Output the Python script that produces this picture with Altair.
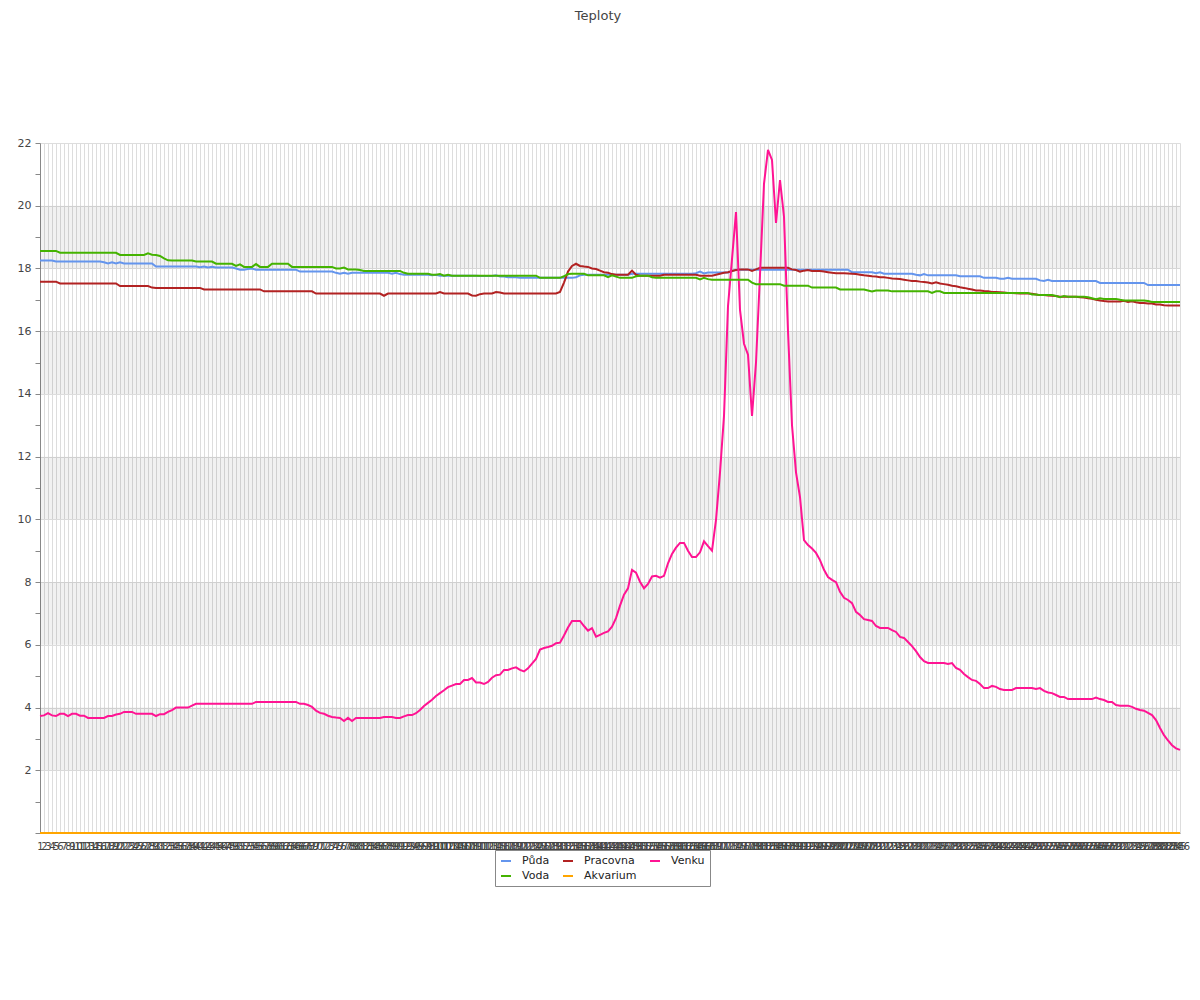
import altair as alt
import pandas as pd

# x categories: measurement numbers 1..286
labels = list(range(1, 287))

series_names = ["Půda", "Pracovna", "Venku", "Voda", "Akvarium"]
series_colors = ["#6495ED", "#B22222", "#FF1493", "#44B300", "#FFA500"]

puda = [
    18.25, 18.25, 18.25, 18.25, 18.22, 18.22, 18.22, 18.22, 18.22, 18.22,
    18.22, 18.22, 18.22, 18.22, 18.22, 18.22, 18.2, 18.16, 18.2, 18.16,
    18.2, 18.16, 18.16, 18.16, 18.16, 18.16, 18.16, 18.16, 18.16, 18.06,
    18.06, 18.06, 18.06, 18.06, 18.06, 18.06, 18.06, 18.06, 18.06, 18.06,
    18.04, 18.06, 18.03, 18.05, 18.03, 18.03, 18.03, 18.03, 18.03, 18.0,
    17.96, 17.96, 17.98, 18.0, 17.96, 17.96, 17.96, 17.96, 17.96, 17.96,
    17.96, 17.96, 17.96, 17.96, 17.96, 17.9, 17.9, 17.9, 17.9, 17.9,
    17.9, 17.9, 17.9, 17.9, 17.86, 17.83, 17.86, 17.83, 17.86, 17.86,
    17.86, 17.86, 17.86, 17.86, 17.86, 17.86, 17.86, 17.86, 17.83, 17.86,
    17.82, 17.8, 17.8, 17.8, 17.8, 17.8, 17.8, 17.8, 17.78, 17.8,
    17.77, 17.77, 17.77, 17.77, 17.77, 17.77, 17.77, 17.77, 17.77, 17.77,
    17.76, 17.76, 17.76, 17.76, 17.78, 17.74, 17.74, 17.72, 17.72, 17.72,
    17.7, 17.7, 17.7, 17.7, 17.7, 17.7, 17.7, 17.7, 17.7, 17.7,
    17.7, 17.7, 17.7, 17.7, 17.72, 17.78, 17.8, 17.8, 17.8, 17.8,
    17.8, 17.8, 17.8, 17.8, 17.8, 17.8, 17.8, 17.8, 17.83, 17.83,
    17.83, 17.83, 17.83, 17.83, 17.83, 17.83, 17.83, 17.83, 17.83, 17.83,
    17.83, 17.83, 17.83, 17.83, 17.85, 17.9, 17.84, 17.87, 17.87, 17.87,
    17.87, 17.87, 17.87, 17.92, 17.96, 17.96, 17.96, 17.96, 17.96, 17.96,
    17.96, 17.96, 17.96, 17.96, 17.96, 17.96, 17.96, 17.96, 17.96, 17.96,
    17.96, 17.96, 17.96, 17.96, 17.96, 17.96, 17.96, 17.96, 17.96, 17.96,
    17.96, 17.96, 17.96, 17.88, 17.88, 17.88, 17.88, 17.88, 17.88, 17.85,
    17.88, 17.83, 17.83, 17.83, 17.83, 17.83, 17.83, 17.83, 17.83, 17.8,
    17.78, 17.82, 17.78, 17.78, 17.78, 17.78, 17.78, 17.78, 17.78, 17.78,
    17.75, 17.75, 17.75, 17.75, 17.75, 17.75, 17.7, 17.7, 17.7, 17.7,
    17.67, 17.67, 17.7, 17.67, 17.67, 17.67, 17.67, 17.67, 17.67, 17.67,
    17.62, 17.6, 17.64, 17.6, 17.6, 17.6, 17.6, 17.6, 17.6, 17.6,
    17.6, 17.6, 17.6, 17.6, 17.6, 17.54, 17.54, 17.54, 17.54, 17.54,
    17.54, 17.54, 17.54, 17.54, 17.54, 17.54, 17.54, 17.47, 17.47, 17.47,
    17.47, 17.47, 17.47, 17.47, 17.47, 17.47,
]

pracovna = [
    17.58, 17.58, 17.58, 17.58, 17.58, 17.52, 17.52, 17.52, 17.52, 17.52,
    17.52, 17.52, 17.52, 17.52, 17.52, 17.52, 17.52, 17.52, 17.52, 17.52,
    17.44, 17.44, 17.44, 17.44, 17.44, 17.44, 17.44, 17.44, 17.39, 17.38,
    17.38, 17.38, 17.38, 17.38, 17.38, 17.38, 17.38, 17.38, 17.38, 17.38,
    17.38, 17.33, 17.33, 17.33, 17.33, 17.33, 17.33, 17.33, 17.33, 17.33,
    17.33, 17.33, 17.33, 17.33, 17.33, 17.33, 17.27, 17.27, 17.27, 17.27,
    17.27, 17.27, 17.27, 17.27, 17.27, 17.27, 17.27, 17.27, 17.27, 17.2,
    17.2, 17.2, 17.2, 17.2, 17.2, 17.2, 17.2, 17.2, 17.2, 17.2,
    17.2, 17.2, 17.2, 17.2, 17.2, 17.2, 17.13, 17.2, 17.2, 17.2,
    17.2, 17.2, 17.2, 17.2, 17.2, 17.2, 17.2, 17.2, 17.2, 17.2,
    17.25, 17.2, 17.2, 17.2, 17.2, 17.2, 17.2, 17.2, 17.14, 17.13,
    17.18, 17.2, 17.2, 17.2, 17.25, 17.23, 17.2, 17.2, 17.2, 17.2,
    17.2, 17.2, 17.2, 17.2, 17.2, 17.2, 17.2, 17.2, 17.2, 17.2,
    17.25, 17.55, 17.9, 18.08, 18.15, 18.08, 18.06, 18.05, 18.0, 17.98,
    17.93, 17.88, 17.86, 17.82, 17.8, 17.8, 17.8, 17.8, 17.93, 17.8,
    17.77, 17.77, 17.77, 17.77, 17.77, 17.77, 17.8, 17.8, 17.8, 17.8,
    17.8, 17.8, 17.8, 17.8, 17.8, 17.77, 17.77, 17.77, 17.77, 17.8,
    17.83, 17.86, 17.88, 17.92, 17.95, 17.97, 17.97, 17.97, 17.92, 17.97,
    18.02, 18.02, 18.02, 18.02, 18.02, 18.02, 18.02, 18.02, 17.97, 17.95,
    17.9, 17.93, 17.95, 17.92, 17.92, 17.92, 17.9, 17.88, 17.86, 17.85,
    17.85, 17.85, 17.84, 17.83, 17.82, 17.8, 17.78, 17.77, 17.75, 17.74,
    17.72, 17.72, 17.7, 17.68, 17.67, 17.66, 17.64, 17.62, 17.6, 17.6,
    17.58, 17.57, 17.55, 17.52, 17.56, 17.52, 17.5, 17.48, 17.45, 17.43,
    17.4, 17.38, 17.35, 17.33, 17.3, 17.3, 17.28, 17.27, 17.25, 17.25,
    17.24, 17.23, 17.22, 17.22, 17.21, 17.2, 17.2, 17.2, 17.19, 17.17,
    17.15, 17.15, 17.14, 17.13, 17.12, 17.1, 17.1, 17.1, 17.1, 17.1,
    17.08, 17.07, 17.05, 17.03, 17.0, 16.98, 16.96, 16.95, 16.95, 16.95,
    16.95, 16.97, 16.93, 16.95, 16.92, 16.9, 16.9, 16.88, 16.88, 16.85,
    16.85, 16.83, 16.82, 16.82, 16.82, 16.82,
]

venku = [
    3.73, 3.75, 3.82, 3.75, 3.73, 3.8, 3.8, 3.73, 3.8, 3.8,
    3.74, 3.74, 3.67, 3.67, 3.67, 3.67, 3.67, 3.73, 3.73, 3.78,
    3.8, 3.86, 3.86, 3.86, 3.8, 3.8, 3.8, 3.8, 3.8, 3.73,
    3.79, 3.79, 3.86, 3.92, 4.0, 4.0, 4.0, 4.0, 4.06, 4.12,
    4.12, 4.12, 4.12, 4.12, 4.12, 4.12, 4.12, 4.12, 4.12, 4.12,
    4.12, 4.12, 4.12, 4.12, 4.18, 4.18, 4.18, 4.18, 4.18, 4.18,
    4.18, 4.18, 4.18, 4.18, 4.18, 4.12, 4.12, 4.08, 4.02, 3.9,
    3.83, 3.8, 3.74, 3.7, 3.68, 3.67, 3.57, 3.67, 3.57, 3.67,
    3.67, 3.67, 3.67, 3.67, 3.67, 3.67, 3.7, 3.7, 3.7, 3.67,
    3.67, 3.72, 3.76, 3.76, 3.82, 3.92, 4.05, 4.15, 4.25, 4.37,
    4.46, 4.55, 4.65, 4.7, 4.75, 4.75, 4.88, 4.88, 4.94, 4.8,
    4.8, 4.75, 4.82, 4.95, 5.03, 5.05, 5.2, 5.2, 5.25, 5.28,
    5.2, 5.15, 5.25, 5.4, 5.55, 5.85, 5.9, 5.93, 5.97, 6.05,
    6.07, 6.3, 6.55, 6.76, 6.76, 6.76, 6.6, 6.45, 6.53, 6.26,
    6.32, 6.38, 6.43, 6.58, 6.85, 7.25, 7.6, 7.8, 8.39, 8.3,
    8.01, 7.8, 7.94, 8.18, 8.2, 8.14, 8.2, 8.6, 8.9, 9.1,
    9.25, 9.25, 9.0, 8.8, 8.8, 8.95, 9.3, 9.15, 9.0, 9.98,
    11.5, 13.3, 16.8, 18.3, 19.8, 16.68, 15.6, 15.25, 13.3, 15.0,
    17.8, 20.7, 21.78, 21.46, 19.45, 20.82, 19.65, 16.0, 13.0, 11.5,
    10.71, 9.34, 9.18, 9.07, 8.93, 8.7, 8.39, 8.16, 8.07, 8.0,
    7.69, 7.5, 7.43, 7.33, 7.05, 6.95, 6.82, 6.79, 6.76, 6.6,
    6.54, 6.54, 6.54, 6.47, 6.41, 6.25, 6.22, 6.09, 5.96, 5.8,
    5.61, 5.48, 5.42, 5.42, 5.42, 5.42, 5.42, 5.39, 5.42, 5.26,
    5.2, 5.07, 4.97, 4.88, 4.85, 4.75, 4.62, 4.62, 4.69, 4.66,
    4.59, 4.56, 4.56, 4.56, 4.62, 4.62, 4.62, 4.62, 4.62, 4.59,
    4.62, 4.53, 4.48, 4.46, 4.4, 4.34, 4.34, 4.27, 4.27, 4.27,
    4.27, 4.27, 4.27, 4.27, 4.32, 4.27, 4.24, 4.18, 4.18, 4.08,
    4.06, 4.06, 4.06, 4.02, 3.96, 3.92, 3.9, 3.83, 3.76, 3.6,
    3.35, 3.12, 2.95, 2.8, 2.7, 2.65,
]

voda = [
    18.56, 18.56, 18.56, 18.56, 18.56, 18.5, 18.5, 18.5, 18.5, 18.5,
    18.5, 18.5, 18.5, 18.5, 18.5, 18.5, 18.5, 18.5, 18.5, 18.5,
    18.43, 18.43, 18.43, 18.43, 18.43, 18.43, 18.43, 18.48, 18.44, 18.43,
    18.4, 18.32, 18.26, 18.25, 18.25, 18.25, 18.25, 18.25, 18.25, 18.22,
    18.22, 18.22, 18.22, 18.22, 18.15, 18.15, 18.15, 18.15, 18.15, 18.08,
    18.13, 18.05, 18.05, 18.05, 18.14, 18.05, 18.05, 18.05, 18.15, 18.15,
    18.15, 18.15, 18.15, 18.05, 18.05, 18.05, 18.05, 18.05, 18.05, 18.05,
    18.05, 18.05, 18.05, 18.05, 18.0, 18.0, 18.03, 17.97, 17.97, 17.97,
    17.95, 17.92, 17.92, 17.92, 17.92, 17.92, 17.92, 17.92, 17.92, 17.92,
    17.92, 17.86, 17.83, 17.83, 17.83, 17.83, 17.83, 17.83, 17.8, 17.8,
    17.82, 17.77, 17.8, 17.77, 17.77, 17.77, 17.77, 17.77, 17.77, 17.77,
    17.77, 17.77, 17.77, 17.77, 17.77, 17.77, 17.77, 17.77, 17.77, 17.77,
    17.77, 17.77, 17.77, 17.77, 17.77, 17.7, 17.7, 17.7, 17.7, 17.7,
    17.7, 17.75, 17.82, 17.83, 17.83, 17.83, 17.83, 17.78, 17.78, 17.78,
    17.78, 17.78, 17.72, 17.78, 17.74, 17.7, 17.7, 17.7, 17.7, 17.75,
    17.77, 17.77, 17.77, 17.72, 17.7, 17.7, 17.7, 17.7, 17.7, 17.7,
    17.7, 17.7, 17.7, 17.7, 17.7, 17.65, 17.7, 17.66, 17.64, 17.64,
    17.64, 17.64, 17.64, 17.64, 17.64, 17.64, 17.64, 17.64, 17.55, 17.5,
    17.5, 17.5, 17.5, 17.5, 17.5, 17.5, 17.45, 17.45, 17.45, 17.45,
    17.45, 17.45, 17.45, 17.39, 17.39, 17.39, 17.39, 17.39, 17.39, 17.39,
    17.33, 17.33, 17.33, 17.33, 17.33, 17.33, 17.33, 17.3, 17.27, 17.3,
    17.3, 17.3, 17.3, 17.27, 17.27, 17.27, 17.27, 17.27, 17.27, 17.27,
    17.27, 17.27, 17.27, 17.22, 17.27, 17.27, 17.22, 17.22, 17.22, 17.22,
    17.22, 17.22, 17.22, 17.22, 17.22, 17.22, 17.22, 17.22, 17.22, 17.22,
    17.22, 17.22, 17.22, 17.22, 17.22, 17.22, 17.22, 17.22, 17.17, 17.17,
    17.15, 17.15, 17.15, 17.15, 17.12, 17.08, 17.12, 17.1, 17.1, 17.1,
    17.1, 17.1, 17.08, 17.05, 17.02, 17.05, 17.03, 17.03, 17.03, 17.03,
    17.0, 16.98, 16.98, 16.98, 16.98, 16.98, 16.98, 16.96, 16.93, 16.93,
    16.93, 16.93, 16.93, 16.93, 16.93, 16.93,
]

akvarium = [0.0] * len(labels)

# shaded horizontal bands of the plot background
band_lo = [2, 6, 10, 14, 18]
band_hi = [4, 8, 12, 16, 20]

for s in (puda, pracovna, venku, voda, akvarium):
    assert len(s) == len(labels), len(s)

values = {"Půda": puda, "Pracovna": pracovna, "Venku": venku,
          "Voda": voda, "Akvarium": akvarium}
rows = []
for name in series_names:
    for n, v in zip(labels, values[name]):
        rows.append({"n": n, "serie": name, "t": v})
df = pd.DataFrame(rows)
bands = pd.DataFrame({"lo": band_lo, "hi": band_hi})

FONT = "DejaVu Sans"
W, H = 1140, 690

yscale = alt.Scale(domain=[0, 22], nice=False, zero=True)
y_axis = alt.Axis(title=None, values=list(range(0, 23)),
                  labelExpr="datum.value % 2 === 0 && datum.value > 0 ? datum.label : ''",
                  gridColor="#dddddd",
                  gridOpacity={"condition": {"test": "datum.value % 2 === 1", "value": 0}, "value": 1},
                  tickColor="#888888", tickSize=5, domainColor="#888888",
                  labelFontSize=11, labelFont=FONT, labelColor="#444444",
                  labelPadding=4)

band_layer = alt.Chart(bands).mark_rect(color="#000000", opacity=0.055).encode(
    x=alt.value(0),
    x2=alt.value(W),
    y=alt.Y("lo:Q", scale=yscale, axis=y_axis),
    y2="hi:Q",
)

lines = alt.Chart(df).mark_line(strokeWidth=2, interpolate="linear").encode(
    x=alt.X("n:O", scale=alt.Scale(type="point", padding=0),
            axis=alt.Axis(title=None, grid=True, gridColor="#dddddd",
                          ticks=False, labelAngle=0, labelOverlap=False,
                          labelFontSize=10, labelFont=FONT, labelColor="#444444",
                          labelPadding=8, domainColor="#999999")),
    y=alt.Y("t:Q", scale=yscale, axis=y_axis),
    color=alt.Color("serie:N", sort=series_names,
                    scale=alt.Scale(domain=series_names, range=series_colors),
                    legend=alt.Legend(title=None, orient="none", legendX=455, legendY=707,
                                      direction="horizontal", columns=3,
                                      symbolType="stroke", symbolStrokeWidth=2,
                                      symbolSize=100, labelFont=FONT, labelFontSize=11,
                                      labelColor="#222222", strokeColor="#888888",
                                      fillColor="#ffffff", padding=5, columnPadding=9,
                                      rowPadding=4, labelOffset=10)),
    order=alt.Order("n:O"),
)

chart = alt.layer(band_layer, lines).properties(
    width=W, height=H,
    title=alt.TitleParams("Teploty", font=FONT, fontSize=13, fontWeight="normal",
                          color="#444444", offset=114, dx=-12),
    autosize=alt.AutoSizeParams(type="none"),
    padding={"left": 32, "top": 135, "right": 12, "bottom": 110},
).configure_view(stroke=None)

chart.save("out.html", embed_options={"renderer": "svg", "actions": False})
